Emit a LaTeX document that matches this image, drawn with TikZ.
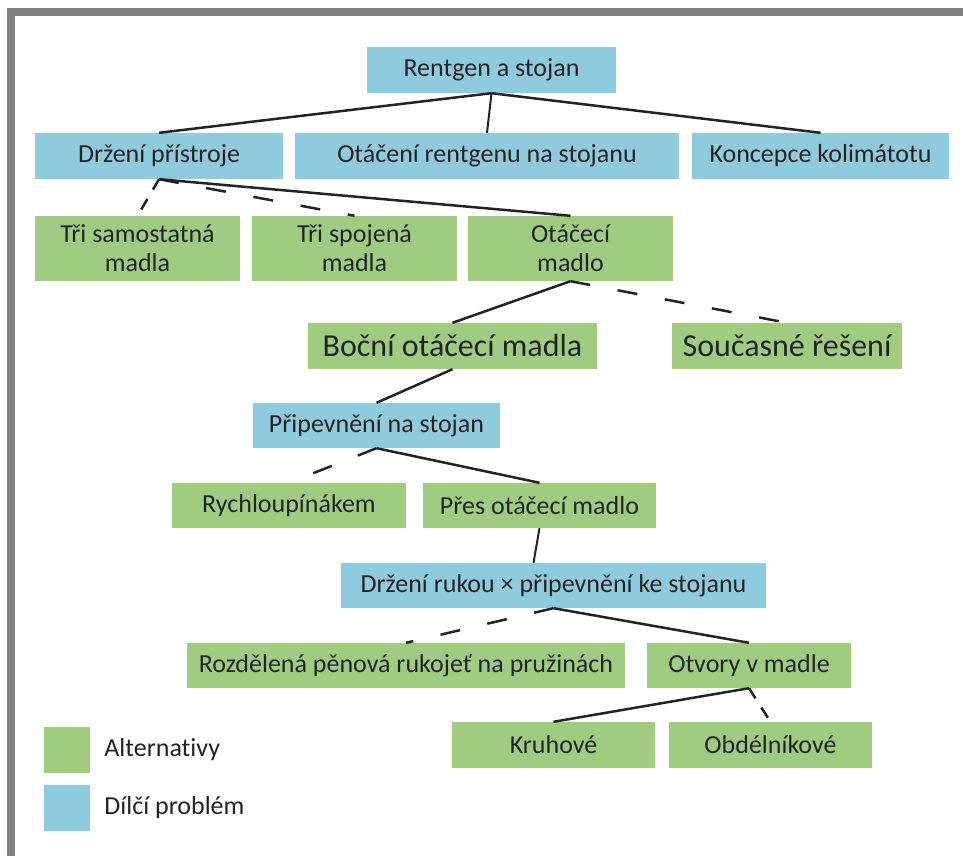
\documentclass[tikz,border=0pt]{standalone}
\usepackage{fontspec}
\setmainfont{Carlito}[Ligatures={NoCommon}]
\usetikzlibrary{positioning}
\definecolor{subblue}{RGB}{143,203,222}
\definecolor{altgreen}{RGB}{160,204,130}
\definecolor{inkgray}{RGB}{35,35,35}
\definecolor{framegray}{RGB}{128,128,128}

\begin{document}
\begin{tikzpicture}[
    x=1pt, y=-1pt,
    box/.style={inner sep=0pt, align=center, minimum height=46pt, text=inkgray, font=\fontsize{26}{29}\selectfont},
    sub/.style={box, fill=subblue},
    alt/.style={box, fill=altgreen},
    big/.style={font=\fontsize{32}{36}\selectfont},
    link/.style={line width=2.5pt, inkgray},
    opt/.style={link, dash pattern=on 20pt off 28pt},
    optshort/.style={link, dash pattern=on 12pt off 11pt}
  ]
    \useasboundingbox (0,0) rectangle (963,856);
    \fill[framegray] (7,8) rectangle (963,16);
    \fill[framegray] (7,8) rectangle (15,856);

    \node[sub, minimum width=249pt] (root) at (491.5,70) {Rentgen a stojan};
    \node[sub, minimum width=248pt] (drzeni) at (159,156) {Držení přístroje};
    \node[sub, minimum width=384pt] (otaceni) at (487,156) {Otáčení rentgenu na stojanu};
    \node[sub, minimum width=257pt] (koncepce) at (820.5,156) {Koncepce kolimátotu};
    \node[alt, minimum width=205pt, minimum height=65pt] (trisam) at (137.5,248.5) {Tři samostatná\\madla};
    \node[alt, minimum width=205pt, minimum height=65pt] (trispoj) at (354.5,248.5) {Tři spojená\\madla};
    \node[alt, minimum width=205pt, minimum height=65pt] (otmadlo) at (570.5,248.5) {Otáčecí\\madlo};
    \node[alt, big, minimum width=289pt] (bocni) at (452.5,346) {Boční otáčecí madla};
    \node[alt, big, minimum width=230pt] (soucasne) at (787,346) {Současné řešení};
    \node[sub, minimum width=247pt, minimum height=45pt] (pripev) at (376.5,425.5) {Připevnění na stojan};
    \node[alt, minimum width=234pt, minimum height=45pt] (rychlo) at (289,505.5) {Rychloupínákem};
    \node[alt, minimum width=233pt, minimum height=45pt] (pres) at (539.5,505.5) {Přes otáčecí madlo};
    \node[sub, minimum width=425pt, minimum height=45pt] (drzruk) at (553.5,585.5) {Držení rukou × připevnění ke stojanu};
    \node[alt, minimum width=438pt, minimum height=45pt] (rozdel) at (406,665.5) {Rozdělená pěnová rukojeť na pružinách};
    \node[alt, minimum width=204pt, minimum height=45pt] (otvory) at (749,665.5) {Otvory v madle};
    \node[alt, minimum width=203pt] (kruh) at (553.5,745) {Kruhové};
    \node[alt, minimum width=203pt] (obdel) at (770.5,745) {Obdélníkové};

    % legend
    \node[alt, minimum width=46pt] (keyalt) at (67,750) {};
    \node[box, anchor=west, right=14pt of keyalt] (keyalttext) {Alternativy};
    \node[sub, minimum width=46pt] (keysub) at (67,808) {};
    \node[box, anchor=west, right=14pt of keysub] (keysubtext) {Dílčí problém};

    \draw[link] (root.south) -- (drzeni.north);
    \draw[link, line width=2pt] (root.south) -- (otaceni.north);
    \draw[link] (root.south) -- (koncepce.north);
    \draw[optshort] (drzeni.south) -- (trisam.north);
    \draw[opt] (drzeni.south) -- (trispoj.north);
    \draw[link] (drzeni.south) -- (otmadlo.north);
    \draw[link] (otmadlo.south) -- (bocni.north);
    \draw[opt] (otmadlo.south) -- (soucasne.north);
    \draw[link] (bocni.south) -- (pripev.north);
    \draw[opt] (pripev.south) -- (rychlo.north);
    \draw[link] (pripev.south) -- (pres.north);
    \draw[link, line width=2pt] (pres.south) -- ([xshift=-20pt]drzruk.north);
    \draw[opt] (drzruk.south) -- (rozdel.north);
    \draw[link] (drzruk.south) -- (otvory.north);
    \draw[link] (otvory.south) -- (kruh.north);
    \draw[optshort] (otvory.south) -- (obdel.north);
  \end{tikzpicture}
\end{document}
